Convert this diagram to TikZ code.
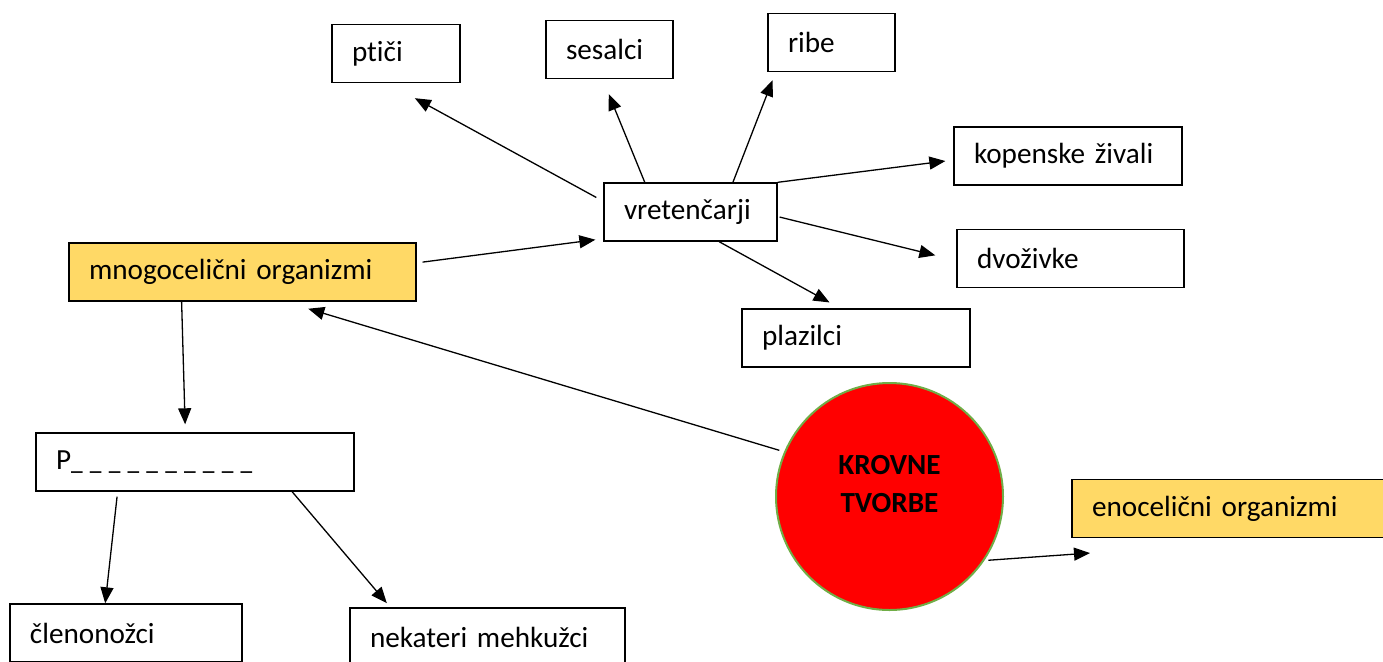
\documentclass[tikz,border=0pt]{standalone}
\usepackage{fontspec}
\setmainfont{Carlito}[Ligatures=NoCommon]
\usetikzlibrary{arrows.meta}
\definecolor{boxyellow}{RGB}{255, 217, 102}
\definecolor{ringgreen}{RGB}{112, 173, 71}
\newcommand{\crta}{\kern1.8pt\scalebox{0.8}[1]{\_}\kern1.8pt}

\begin{document}
\begin{tikzpicture}[x=0.5pt, y=-0.5pt,
    font=\fontsize{14.6}{17.5}\selectfont,
    box/.style={draw, line width=0.7pt, inner xsep=10pt, text width=#1, align=left, minimum height=29pt},
    arr/.style={-{Triangle[length=8pt, width=6.5pt]}, line width=0.65pt}]
  \useasboundingbox (0,0) rectangle (1383,661);
  % vretencarji in njihove skupine
  \node[box=44pt] (ptici) at (396,53.5) {ptiči};
  \node[box=43.5pt] (sesalci) at (609.5,49.5) {sesalci};
  \node[box=43.5pt] (ribe) at (831.5,42.5) {ribe};
  \node[box=94pt] (kopenske) at (1068,156) {kopenske živali};
  \node[box=66.5pt] (vret) at (690.5,212) {vretenčarji};
  \node[box=93.5pt] (dvoz) at (1070.5,258.5) {dvoživke};
  \node[box=94pt] (plaz) at (856,338) {plazilci};
  % organizmi
  \node[box=153.5pt, fill=boxyellow] (mnogo) at (242.5,272) {mnogocelični organizmi};
  \node[box=144pt, fill=boxyellow] (enoc) at (1236,508.5) {enocelični organizmi};
  \node[box=139pt] (pbox) at (195,462) {P\kern-1.8pt\crta\crta\crta\crta\crta\crta\crta\crta\crta\crta};
  \node[box=96pt] (clen) at (126,633) {členonožci};
  \node[box=117.5pt] (nek) at (487.5,637) {nekateri mehkužci};
  \node[draw=ringgreen, line width=1pt, fill=red, circle, minimum size=113.5pt, align=center,
        font=\fontsize{14.6}{19}\selectfont\bfseries, text depth=13pt] (krovne) at (889.5,496.5) {KROVNE\\TVORBE};
  \coordinate (enocpt) at (1090,553);
  % puscice
  \draw[arr, shorten <=4pt, shorten >=15.6pt] (vret.173) -- (ptici.254);
  \draw[arr, shorten >=8.1pt] (vret.147) -- (sesalci.257);
  \draw[arr, shorten >=4.3pt] (vret.35) -- (ribe.208.7);
  \draw[arr, shorten >=4pt] (vret.north east) -- (kopenske.182.5);
  \draw[arr, shorten <=1pt, shorten >=10.8pt] (vret.-3.6) -- (dvoz.181.3);
  \draw[arr, shorten >=6.1pt] (vret.-46.5) -- (plaz.118.9);
  \draw[arr, shorten <=3pt, shorten >=4pt] (mnogo.3.4) -- (vret.197.3);
  \draw[arr, shorten <=2.5pt, shorten >=12.2pt] (krovne.157.4) -- (mnogo.-35.2);
  \draw[arr, shorten >=4pt] (mnogo.206) -- (pbox.108.9);
  \draw[arr, shorten <=2.5pt] (pbox.201.9) -- (clen.125.9);
  \draw[arr, shorten >=2.7pt] (pbox.-17.5) -- (nek.163.4);
  \draw[arr, shorten <=2pt] (krovne.-34.3) -- (enocpt);
\end{tikzpicture}
\end{document}
